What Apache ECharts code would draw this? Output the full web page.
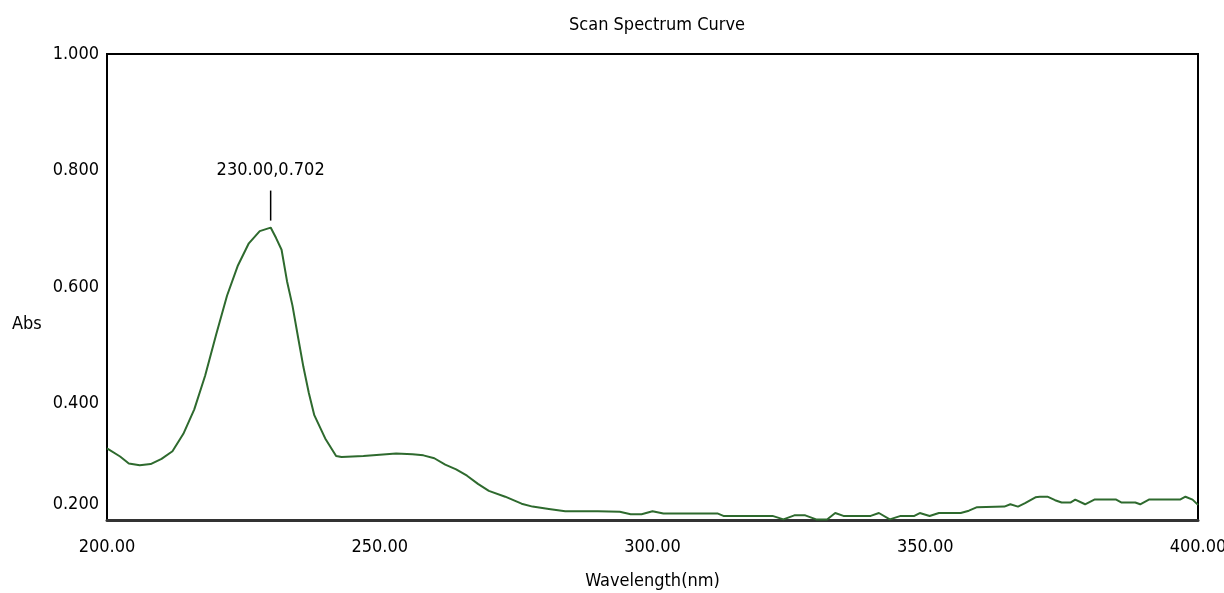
<!DOCTYPE html>
<html>
<head>
<meta charset="utf-8">
<script src="https://cdn.jsdelivr.net/npm/echarts@6/dist/echarts.min.js"></script>
<style>
html,body{margin:0;padding:0;background:#fff;}
#chart{width:1224px;height:593px;}
</style>
</head>
<body>
<div id="chart"></div>
<script>
var wavelength = [200,202.4,204,206,208,210,212,214,216,218,220,222,224,226,228,230,231,232,233,234,235,236,237,238,240,242,243,245,247,250,253,256,258,260,262,264,266,268,270,273,276,278,281,284,290,294,296,298,300,302,307,312,313,322,324,326,328,330,332,333.5,335,340,341.5,343.5,345.5,348,349,350.8,352.5,356.5,358,359.5,364.5,365.6,367,368.3,370.2,371,372.4,373.8,375,376.6,377.5,379.3,381,385,386,388.5,389.4,391,396.7,397.7,399,400];
var absorbance = [0.323,0.309,0.297,0.294,0.296,0.305,0.318,0.348,0.390,0.448,0.518,0.585,0.637,0.675,0.696,0.702,0.684,0.664,0.610,0.568,0.515,0.463,0.418,0.380,0.340,0.310,0.308,0.309,0.310,0.312,0.314,0.313,0.311,0.306,0.295,0.287,0.276,0.262,0.250,0.240,0.228,0.223,0.219,0.215,0.215,0.214,0.210,0.210,0.215,0.211,0.211,0.211,0.207,0.207,0.201,0.208,0.208,0.201,0.201,0.212,0.207,0.207,0.212,0.201,0.207,0.207,0.212,0.207,0.212,0.212,0.216,0.222,0.223,0.227,0.223,0.229,0.239,0.240,0.240,0.234,0.230,0.230,0.235,0.227,0.235,0.235,0.230,0.230,0.227,0.235,0.235,0.240,0.235,0.226];
var xTicks = [200,250,300,350,400];
var yTicks = [0.2,0.4,0.6,0.8,1.0];
var peak = {x:230.00, y:0.702};

var FONT = '"DejaVu Sans Condensed","Liberation Sans Narrow",sans-serif';
var FS = 18;
var data = wavelength.map(function(w,i){return [w, absorbance[i]];});

var chart = echarts.init(document.getElementById('chart'), null, {renderer:'canvas'});
chart.setOption({
  backgroundColor:'#ffffff',
  animation:false,
  title:{
    text:'Scan Spectrum Curve', left:652, top:11, textAlign:'center',
    textStyle:{fontFamily:FONT, fontSize:FS, fontWeight:'normal', color:'#000'}
  },
  grid:{left:107, right:26, top:54, bottom:73, containLabel:false, outerBoundsMode:'none',
    show:true, borderColor:'#000', borderWidth:2, backgroundColor:'transparent'},
  xAxis:{
    type:'value', min:xTicks[0], max:xTicks[xTicks.length-1], interval:50,
    name:'Wavelength(nm)', nameLocation:'middle', nameGap:52,
    nameTextStyle:{fontFamily:FONT, fontSize:FS, color:'#000'},
    axisLine:{show:true, onZero:false, lineStyle:{color:'#333', width:3}},
    axisTick:{show:false}, splitLine:{show:false},
    axisLabel:{margin:18, fontFamily:FONT, fontSize:FS, color:'#000',
      formatter:function(v){return v.toFixed(2);}}
  },
  yAxis:{
    type:'value', min:yTicks[0], max:yTicks[yTicks.length-1], interval:0.2,
    axisLine:{show:true, lineStyle:{color:'#000', width:2}},
    axisTick:{show:false}, splitLine:{show:false},
    axisLabel:{margin:8, fontFamily:FONT, fontSize:FS, color:'#000',
      formatter:function(v){ var s=v.toFixed(3); return Math.abs(v-yTicks[0])<1e-9 ? '{lo|'+s+'}' : s; },
      rich:{lo:{fontFamily:FONT, fontSize:FS, color:'#000', padding:[0,0,32,0]}}
    }
  },
  graphic:[{
    type:'text', left:12, top:315,
    style:{text:'Abs', fontFamily:FONT, fontSize:FS, fill:'#000'}
  }],
  series:[{
    type:'line', data:data, symbol:'none', smooth:false,
    lineStyle:{color:'#2e6a2e', width:2},
    markPoint:{
      symbol:'rect', symbolSize:[1.5,30], symbolOffset:[0,-22],
      itemStyle:{color:'#000'},
      label:{show:true, position:'top', distance:11, fontFamily:FONT, fontSize:FS, color:'#000',
        formatter:function(){return peak.x.toFixed(2)+','+peak.y.toFixed(3);}},
      data:[{coord:[peak.x, peak.y]}]
    }
  }]
});
</script>
</body>
</html>
